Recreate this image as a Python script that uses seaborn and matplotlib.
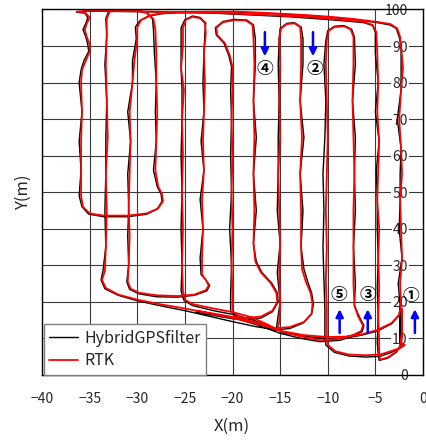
import matplotlib
matplotlib.use('Agg')
import matplotlib.pyplot as plt
import seaborn as sns
import pandas as pd

# RTK trajectory (x, y in metres)
rtk_path = [
    (-14.8, 12.0), (-12.5, 10.9), (-10.1, 10.4), (-8.0, 10.5), (-6.6, 11.0), (-4.8, 12.3), (-3.3, 14.2), (-2.5, 16.5), (-2.3, 19.0),
    (-2.4, 25), (-2.2, 32), (-2.3, 40), (-2.4, 48), (-2.2, 55), (-2.3, 62), (-2.5, 70), (-2.3, 78), (-2.1, 84), (-2.3, 90), (-2.4, 92.5),
    (-2.7, 94.8), (-3.4, 96.0), (-4.8, 96.6), (-7.3, 97.4), (-9.7, 98.0), (-12.5, 98.5), (-16.0, 99.0), (-19.5, 99.4), (-23.0, 99.4),
    (-26.0, 99.2), (-27.6, 98.9), (-28.7, 98.4), (-29.6, 97.1), (-30.0, 95.2), (-30.0, 92.0),
    (-30.3, 86), (-30.5, 80), (-30.8, 72), (-30.7, 64), (-30.8, 55), (-30.9, 46), (-30.8, 38), (-30.9, 30), (-31.0, 25.5),
    (-30.7, 23.6), (-29.8, 22.5), (-28.0, 21.8), (-25.8, 21.6), (-24.0, 22.0), (-22.8, 23.2), (-22.5, 24.5), (-22.8, 26.0), (-23.2, 27.5),
    (-23.2, 32), (-23.1, 40), (-23.2, 48), (-23.0, 56), (-23.1, 64), (-23.0, 72), (-22.9, 80), (-23.0, 88), (-22.8, 93.5),
    (-22.9, 96.3), (-23.4, 97.6), (-24.2, 98.0), (-24.9, 97.2), (-25.2, 95.0),
    (-25.2, 90), (-25.4, 84), (-25.1, 78), (-25.3, 70), (-25.2, 60), (-25.3, 50), (-25.2, 40), (-25.3, 30), (-25.2, 23),
    (-25.0, 20.6), (-24.2, 19.4), (-22.0, 18.2), (-20.0, 17.2), (-18.0, 15.8), (-16.3, 13.8), (-15.3, 12.4),
    (-15.1, 14.5), (-15.0, 20), (-15.1, 28), (-15.0, 36), (-15.1, 45), (-15.2, 55), (-15.0, 65), (-15.1, 75), (-15.0, 85), (-15.1, 92),
    (-14.9, 94.8), (-14.3, 96.0), (-13.5, 96.2), (-12.9, 95.2), (-12.8, 92),
    (-12.8, 85), (-12.9, 75), (-12.7, 65), (-12.9, 55), (-12.8, 45), (-12.8, 35), (-12.7, 29),
    (-12.3, 25.5), (-11.8, 22.5), (-11.6, 19.5), (-11.7, 16.8), (-12.5, 14.5), (-14.0, 13.1), (-15.5, 12.8),
    (-17.5, 14.0), (-20.0, 15.6), (-22.5, 16.9), (-25.0, 18.2), (-27.5, 19.3), (-30.0, 20.6), (-32.0, 22.0), (-33.3, 23.8), (-33.7, 26.0), (-33.4, 28.5),
    (-33.3, 35), (-33.2, 45), (-33.3, 55), (-33.1, 65), (-33.2, 75), (-33.3, 85), (-33.2, 93), (-33.2, 97.5),
    (-32.9, 99.4), (-31.5, 99.8), (-30.0, 99.7), (-29.0, 99.0), (-28.3, 97.4), (-28.1, 94.5),
    (-28.0, 88), (-28.0, 80), (-27.9, 72), (-28.0, 64), (-28.1, 56), (-27.8, 51.5),
    (-27.4, 49.5), (-27.3, 47.5), (-27.8, 45.6), (-29.0, 44.2), (-31.0, 43.6), (-33.5, 43.6), (-35.0, 44.2), (-35.7, 46.0), (-35.9, 49),
    (-35.9, 56), (-35.9, 64), (-35.8, 72), (-35.9, 80), (-35.8, 83.5), (-35.4, 86), (-35.0, 88.5), (-35.0, 90.5), (-35.3, 92.5), (-35.5, 94.5), (-35.3, 96.2), (-35.0, 97.8),
    (-35.4, 99.0), (-36.3, 99.4), (-35.5, 99.6), (-33.5, 99.6), (-30.0, 99.5), (-26.0, 99.3), (-22.0, 99.1), (-18.0, 98.7), (-14.0, 98.2),
    (-11.3, 97.8), (-8.8, 97.2), (-6.2, 96.6), (-5.3, 95.8), (-4.9, 93.8),
    (-4.8, 88), (-4.7, 80), (-4.8, 72), (-4.6, 64), (-4.7, 56), (-4.8, 48), (-4.6, 40), (-4.7, 32), (-4.6, 24), (-4.7, 16), (-4.6, 9), (-4.6, 5.5), (-4.5, 4.2),
    (-3.7, 4.8), (-2.8, 6.4), (-2.3, 8.0), (-2.2, 12), (-2.2, 18), (-2.2, 12), (-2.3, 8.8), (-1.9, 8.2), (-2.5, 7.3),
    (-3.5, 6.4), (-4.5, 5.6), (-6.0, 5.4), (-7.8, 5.6), (-9.2, 6.5), (-10.0, 8.2), (-10.1, 10.5),
    (-10.1, 18), (-10.2, 26), (-10.1, 35), (-10.2, 45), (-10.1, 55), (-10.0, 65), (-10.1, 75), (-10.2, 85), (-10.1, 91.5),
    (-9.9, 94.2), (-9.3, 95.2), (-8.3, 95.4), (-7.6, 94.6), (-7.3, 92.5),
    (-7.3, 85), (-7.4, 75), (-7.3, 65), (-7.2, 55), (-7.3, 45), (-7.3, 35), (-7.3, 25), (-7.2, 19),
    (-6.8, 16.0), (-6.3, 13.5), (-6.5, 12.0), (-7.3, 11.0), (-8.7, 9.9), (-10.8, 9.5), (-12.8, 10.5), (-15.0, 12.0), (-17.3, 14.2), (-19.3, 15.8), (-20.0, 17.5),
    (-20.0, 22), (-20.1, 30), (-20.0, 40), (-20.1, 50), (-20.0, 60), (-20.1, 70), (-20.0, 78), (-20.0, 84.3),
    (-20.3, 87.5), (-20.8, 90.8), (-21.6, 93.0), (-21.7, 95.0), (-21.0, 96.5), (-19.8, 97.1), (-18.6, 97.0), (-17.9, 95.8), (-17.8, 92),
    (-17.7, 85), (-17.8, 75), (-17.7, 65), (-17.8, 55), (-17.7, 45), (-17.8, 36), (-17.6, 31),
    (-17.0, 28.0), (-16.0, 25.2), (-15.4, 22.5), (-15.3, 20.0), (-15.8, 17.6), (-17.0, 16.0), (-18.5, 15.6), (-20.0, 15.9), (-22.0, 16.8), (-23.8, 17.6),
]

# HybridGPSfilter trajectory, mostly hidden under the RTK one
gps_path = [
    (-14.8, 11.6), (-12.5, 10.6), (-10.1, 10.0), (-8.0, 10.2), (-6.6, 10.8), (-4.8, 12.0), (-3.3, 14.0), (-2.5, 16.3), (-2.4, 19.0),
    (-2.6, 25), (-2.2, 32), (-2.5, 40), (-2.4, 48), (-2.4, 55), (-2.3, 62), (-2.7, 70), (-2.3, 78), (-2.3, 84), (-2.3, 90), (-2.5, 92.5),
    (-2.8, 94.8), (-3.5, 95.8), (-4.8, 96.4), (-7.3, 97.3), (-9.7, 97.8), (-12.5, 98.4), (-16.0, 98.9), (-19.5, 99.3), (-23.0, 99.3),
    (-26.0, 99.1), (-27.6, 98.8), (-28.7, 98.2), (-29.7, 97.0), (-30.2, 95.2), (-30.1, 92.0),
    (-30.5, 86), (-30.5, 80), (-31.0, 72), (-30.7, 64), (-31.0, 55), (-30.9, 46), (-31.0, 38), (-30.9, 30), (-31.1, 25.5),
    (-30.8, 23.4), (-29.8, 22.2), (-28.0, 21.4), (-25.8, 21.3), (-24.0, 21.8), (-22.7, 23.0), (-22.4, 24.5), (-22.8, 26.0), (-23.3, 27.5),
    (-23.4, 32), (-23.1, 40), (-23.4, 48), (-23.0, 56), (-23.3, 64), (-23.0, 72), (-23.1, 80), (-23.0, 88), (-22.9, 93.5),
    (-22.8, 96.3), (-23.4, 97.8), (-24.2, 98.2), (-25.0, 97.2), (-25.4, 95.0),
    (-25.4, 90), (-25.4, 84), (-25.3, 78), (-25.3, 70), (-25.4, 60), (-25.3, 50), (-25.4, 40), (-25.3, 30), (-25.4, 23),
    (-25.1, 20.4), (-24.2, 19.0), (-22.0, 17.6), (-20.0, 16.6), (-18.0, 15.2), (-16.3, 13.4), (-15.4, 12.2),
    (-15.3, 14.5), (-15.0, 20), (-15.3, 28), (-15.0, 36), (-15.3, 45), (-15.2, 55), (-15.2, 65), (-15.1, 75), (-15.2, 85), (-15.1, 92),
    (-15.0, 94.8), (-14.3, 96.2), (-13.5, 96.4), (-12.8, 95.2), (-12.6, 92),
    (-12.6, 85), (-12.9, 75), (-12.5, 65), (-12.9, 55), (-12.6, 45), (-12.8, 35), (-12.5, 29),
    (-12.1, 25.5), (-11.7, 22.5), (-11.5, 19.5), (-11.7, 16.6), (-12.6, 14.2), (-14.0, 12.7), (-15.5, 12.4),
    (-17.5, 13.2), (-20.0, 14.6), (-22.5, 16.1), (-25.0, 17.6), (-27.5, 18.9), (-30.0, 20.3), (-32.0, 21.8), (-33.4, 23.6), (-33.8, 26.0), (-33.6, 28.5),
    (-33.3, 35), (-33.4, 45), (-33.3, 55), (-33.3, 65), (-33.2, 75), (-33.4, 85), (-33.2, 93), (-33.3, 97.5),
    (-33.0, 99.5), (-31.5, 99.9), (-30.0, 99.8), (-29.0, 99.2), (-28.4, 97.4), (-28.3, 94.5),
    (-28.2, 88), (-28.0, 80), (-28.1, 72), (-28.0, 64), (-28.3, 56), (-27.9, 51.5),
    (-27.5, 49.5), (-27.4, 47.5), (-27.9, 45.4), (-29.0, 44.0), (-31.0, 43.3), (-33.5, 43.3), (-35.1, 44.0), (-35.8, 46.0), (-36.1, 49),
    (-35.9, 56), (-36.1, 64), (-35.8, 72), (-36.1, 80), (-35.9, 83.5), (-35.6, 86), (-35.1, 88.5), (-35.2, 90.5), (-35.4, 92.5), (-35.7, 94.5), (-35.4, 96.2), (-35.2, 97.8),
    (-35.5, 99.0), (-36.4, 99.3), (-35.5, 99.5), (-33.5, 99.5), (-30.0, 99.4), (-26.0, 99.2), (-22.0, 99.0), (-18.0, 98.5), (-14.0, 98.0),
    (-11.3, 97.5), (-8.8, 97.0), (-6.2, 96.4), (-5.3, 95.6), (-5.0, 93.8),
    (-5.0, 88), (-4.7, 80), (-5.0, 72), (-4.6, 64), (-4.9, 56), (-4.8, 48), (-4.8, 40), (-4.7, 32), (-4.8, 24), (-4.7, 16), (-4.8, 9), (-4.7, 5.5), (-4.6, 4.0),
    (-3.7, 4.6), (-2.8, 6.2), (-2.4, 8.0), (-2.4, 12), (-2.4, 18), (-2.4, 12), (-2.4, 8.8), (-2.0, 8.0), (-2.6, 7.0),
    (-3.5, 6.0), (-4.5, 5.1), (-6.0, 4.9), (-7.8, 5.2), (-9.3, 6.2), (-10.2, 8.2), (-10.3, 10.5),
    (-10.3, 18), (-10.4, 26), (-10.5, 35), (-10.4, 45), (-10.5, 55), (-10.3, 65), (-10.2, 75), (-10.4, 85), (-10.2, 91.5),
    (-10.0, 94.2), (-9.3, 95.4), (-8.3, 95.6), (-7.5, 94.6), (-7.2, 92.5),
    (-7.1, 85), (-7.4, 75), (-7.1, 65), (-7.2, 55), (-7.1, 45), (-7.3, 35), (-7.1, 25), (-7.2, 19),
    (-6.7, 16.0), (-6.2, 13.5), (-6.4, 11.8), (-7.3, 10.7), (-8.7, 9.5), (-10.8, 9.1), (-12.8, 10.0), (-15.0, 11.4), (-17.3, 13.6), (-19.3, 15.2), (-20.2, 17.5),
    (-20.2, 22), (-20.1, 30), (-20.3, 40), (-20.1, 50), (-20.2, 60), (-20.1, 70), (-20.2, 78), (-20.1, 84.3),
    (-20.4, 87.5), (-20.9, 90.8), (-21.7, 93.0), (-21.8, 95.0), (-21.0, 96.7), (-19.8, 97.3), (-18.5, 97.1), (-17.8, 95.8), (-17.6, 92),
    (-17.6, 85), (-17.8, 75), (-17.5, 65), (-17.8, 55), (-17.5, 45), (-17.8, 36), (-17.5, 31),
    (-16.9, 28.0), (-15.9, 25.2), (-15.3, 22.5), (-15.2, 20.0), (-15.8, 17.3), (-17.0, 15.6), (-18.5, 15.1), (-20.0, 15.4), (-22.0, 16.3), (-23.8, 17.2),
]

x_ticks = [-40, -35, -30, -25, -20, -15, -10, -5, 0]
y_ticks = [0, 10, 20, 30, 40, 50, 60, 70, 80, 90, 100]

# lap markers: label, label position, arrow tail, arrow head
lap_labels = ['①', '②', '③', '④', '⑤']
lap_label_xy = [(-1.25, 21.6), (-11.4, 83.7), (-5.8, 21.9), (-16.6, 83.7), (-8.8, 21.9)]
lap_arrow_from = [(-0.85, 11.5), (-11.55, 93.8), (-5.8, 11.5), (-16.6, 93.8), (-8.75, 11.5)]
lap_arrow_to = [(-0.85, 18.0), (-11.55, 87.2), (-5.8, 18.0), (-16.6, 87.2), (-8.75, 18.0)]

sns.set_style('white')
plt.rcParams['font.family'] = ['Noto Sans CJK JP', 'DejaVu Sans']

gps = pd.DataFrame(gps_path, columns=['x', 'y'])
rtk = pd.DataFrame(rtk_path, columns=['x', 'y'])

fig = plt.figure(figsize=(4.27, 4.41), dpi=100)
ax = fig.add_axes([0.0984, 0.1497, 0.8922, 0.8288])

sns.lineplot(data=gps, x='x', y='y', sort=False, estimator=None, color='black',
             linewidth=1.0, label='HybridGPSfilter', ax=ax)
sns.lineplot(data=rtk, x='x', y='y', sort=False, estimator=None, color='red',
             linewidth=1.3, label='RTK', ax=ax)

for lab, pos, tail, head in zip(lap_labels, lap_label_xy, lap_arrow_from, lap_arrow_to):
    ax.text(pos[0], pos[1], lab, ha='center', va='center', fontsize=12,
            fontweight='bold', color='black', zorder=5)
    ax.annotate('', xy=head, xytext=tail,
                arrowprops=dict(arrowstyle='-|>', color='blue', lw=1.8, mutation_scale=11,
                                shrinkA=0, shrinkB=0), zorder=5)

ax.set_xlim(-40, 0)
ax.set_ylim(0, 100)
ax.set_xticks(x_ticks)
ax.set_yticks(y_ticks)
ax.set_axisbelow(True)
ax.grid(True, color='#3a3a3a', linewidth=0.8)
for sp in ax.spines.values():
    sp.set_color('black')
    sp.set_linewidth(1.0)

ax.tick_params(axis='x', length=0, pad=12, labelsize=10)
ax.yaxis.tick_right()
ax.tick_params(axis='y', length=0, pad=-11, labelsize=10)
for t in ax.get_yticklabels():
    t.set_horizontalalignment('right')
    t.set_bbox(dict(facecolor='white', edgecolor='none', pad=0.6))

ax.set_xlabel('X(m)', fontsize=12)
ax.set_ylabel('Y(m)', fontsize=12)
ax.xaxis.set_label_coords(0.499, -0.118)
ax.yaxis.set_label_position('left')
ax.yaxis.label.set_va('center')
ax.yaxis.set_label_coords(-0.05, 0.5)

leg = ax.legend(loc='lower left', bbox_to_anchor=(0.004, 0.0), borderaxespad=0,
                fontsize=11.5, handlelength=1.8, handletextpad=0.4, labelspacing=0.35,
                fancybox=False, framealpha=1, edgecolor='#7f7f7f', borderpad=0.35)
leg.get_frame().set_linewidth(1.0)

fig.savefig('out.png', dpi=100)
